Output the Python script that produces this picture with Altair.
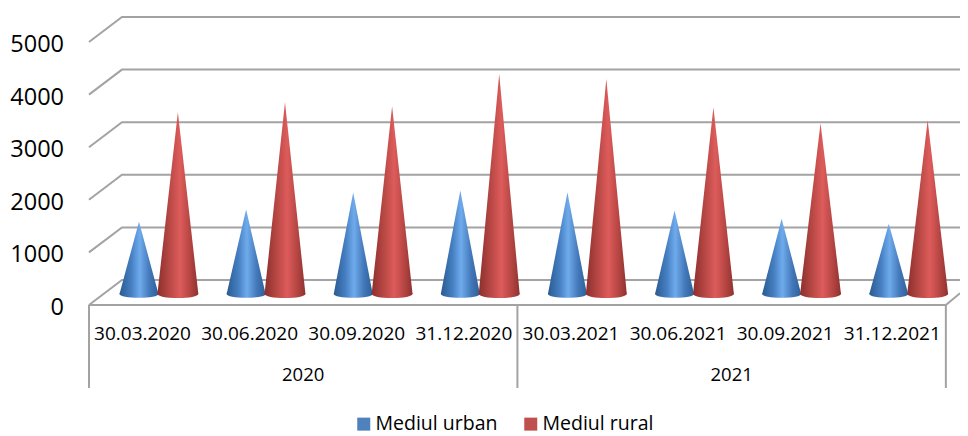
import altair as alt
import pandas as pd

categories = ["30.03.2020", "30.06.2020", "30.09.2020", "31.12.2020",
              "30.03.2021", "30.06.2021", "30.09.2021", "31.12.2021"]
years = ["2020", "2021"]
urban = [1374, 1603, 1927, 1966, 1927, 1584, 1431, 1336]
rural = [3454, 3645, 3569, 4179, 4084, 3550, 3244, 3302]
ticks = [0, 1000, 2000, 3000, 4000, 5000]
series = ["Mediul urban", "Mediul rural"]

FONT = "Open Sans"
GREY = "#a3a3a3"
DEPTH_X, DEPTH_V = 0.308, 475
FLOOR_V = 210
# plot area 952 x 428 px: page x=8..960, y=8..436
X = alt.Scale(domain=[-0.756, 8.132], nice=False, zero=False)
Y = alt.Scale(domain=[-2491, 5646], nice=False, zero=False)


def gradient(stops):
    return alt.Gradient(
        gradient="linear", x1=0, x2=1, y1=0, y2=0,
        stops=[alt.GradientStop(offset=o, color=c) for o, c in stops],
    )


blue_grad = gradient([(0, "#2b5a90"), (0.3, "#457fc2"), (0.52, "#6fabec"),
                      (0.78, "#4277b8"), (1, "#2e5f97")])
red_grad = gradient([(0, "#8c2f2d"), (0.3, "#b84845"), (0.55, "#dd5c5b"),
                     (0.8, "#b54542"), (1, "#8e3230")])

# frame
frame_rows = []
for t in ticks:
    g = f"w{t}"
    frame_rows += [
        dict(g=g, o=0, x=0, v=t),
        dict(g=g, o=1, x=DEPTH_X, v=t + DEPTH_V),
        dict(g=g, o=2, x=8.132, v=t + DEPTH_V),
    ]
frame_rows += [
    dict(g="floor", o=0, x=0, v=0), dict(g="floor", o=1, x=8, v=0),
    dict(g="floor", o=2, x=8.132, v=222),
]
for i, cut in enumerate([0, 4, 8]):
    frame_rows += [dict(g=f"d{i}", o=0, x=cut, v=0), dict(g=f"d{i}", o=1, x=cut, v=-1578)]
frame = (
    alt.Chart(pd.DataFrame(frame_rows))
    .mark_line(color=GREY, strokeWidth=2)
    .encode(
        x=alt.X("x:Q", scale=X, axis=None),
        y=alt.Y("v:Q", scale=Y, axis=None),
        detail="g:N",
        order="o:Q",
    )
)


def cone_layers(values, pos, half, grad):
    rows, caps = [], []
    for i, val in enumerate(values):
        cx = i + pos
        rows += [
            dict(c=i, x=cx - half, v=FLOOR_V, b=FLOOR_V),
            dict(c=i, x=cx, v=FLOOR_V + val, b=FLOOR_V),
            dict(c=i, x=cx + half, v=FLOOR_V, b=FLOOR_V),
        ]
        caps.append(dict(x=cx, v=FLOOR_V))
    body = (
        alt.Chart(pd.DataFrame(rows))
        .mark_area(fill=grad, line=False, interpolate="linear")
        .encode(
            x=alt.X("x:Q", scale=X, axis=None),
            y=alt.Y("v:Q", scale=Y, axis=None),
            y2="b:Q",
            detail="c:N",
        )
    )
    cap = (
        alt.Chart(pd.DataFrame(caps))
        .mark_point(
            shape="M -1 0 A 1 0.2 0 1 0 1 0 A 1 0.2 0 1 0 -1 0 Z",
            filled=True, fill=grad,
            opacity=1, strokeWidth=0, size=(2 * half * 107.1) ** 2,
        )
        .encode(
            x=alt.X("x:Q", scale=X, axis=None),
            y=alt.Y("v:Q", scale=Y, axis=None),
        )
    )
    return [body, cap]


POS_BLUE, POS_RED = 0.467, 0.83

# legend carrier, hidden beneath the cones
leg_df = pd.DataFrame(
    [dict(s=series[0], x=POS_BLUE, v=FLOOR_V), dict(s=series[1], x=POS_RED, v=FLOOR_V)]
)
legend_layer = (
    alt.Chart(leg_df)
    .mark_square(size=4, opacity=1)
    .encode(
        x=alt.X("x:Q", scale=X, axis=None),
        y=alt.Y("v:Q", scale=Y, axis=None),
        color=alt.Color(
            "s:N",
            scale=alt.Scale(domain=series, range=["#4f81bd", "#c0504d"]),
            legend=alt.Legend(
                title=None, orient="none", legendX=346, legendY=406,
                direction="horizontal", symbolType="square", symbolSize=169,
                labelFont=FONT, labelFontSize=19.5, labelColor="#000000",
                columnPadding=23, symbolStrokeWidth=0, labelOffset=2,
            ),
        ),
    )
)

tick_text = (
    alt.Chart(pd.DataFrame({"t": ticks, "x": [-0.233] * len(ticks)}))
    .mark_text(align="right", baseline="middle", font=FONT, fontSize=23.5, color="#000000", dy=3)
    .encode(
        x=alt.X("x:Q", scale=X, axis=None),
        y=alt.Y("t:Q", scale=Y, axis=None),
        text="t:N",
    )
)
cat_text = (
    alt.Chart(pd.DataFrame({
        "t": categories,
        "x": [i + 0.5 for i in range(len(categories))],
        "v": [-551] * len(categories),
    }))
    .mark_text(align="center", baseline="middle", font=FONT, fontSize=19, color="#000000")
    .encode(
        x=alt.X("x:Q", scale=X, axis=None),
        y=alt.Y("v:Q", scale=Y, axis=None),
        text="t:N",
    )
)
year_text = (
    alt.Chart(pd.DataFrame({"t": years, "x": [2, 6], "v": [-1340, -1340]}))
    .mark_text(align="center", baseline="middle", font=FONT, fontSize=18.5, color="#000000")
    .encode(
        x=alt.X("x:Q", scale=X, axis=None),
        y=alt.Y("v:Q", scale=Y, axis=None),
        text="t:N",
    )
)

layers = [frame, legend_layer]
layers += cone_layers(urban, POS_BLUE, 0.182, blue_grad)
layers += cone_layers(rural, POS_RED, 0.191, red_grad)
layers += [tick_text, cat_text, year_text]

chart = (
    alt.layer(*layers)
    .properties(
        width=952, height=428, padding=0,
        autosize=alt.AutoSizeParams(type="none"),
    )
    .configure_view(stroke=None)
)
chart.save("out.html", embed_options={"renderer": "svg", "actions": False})
